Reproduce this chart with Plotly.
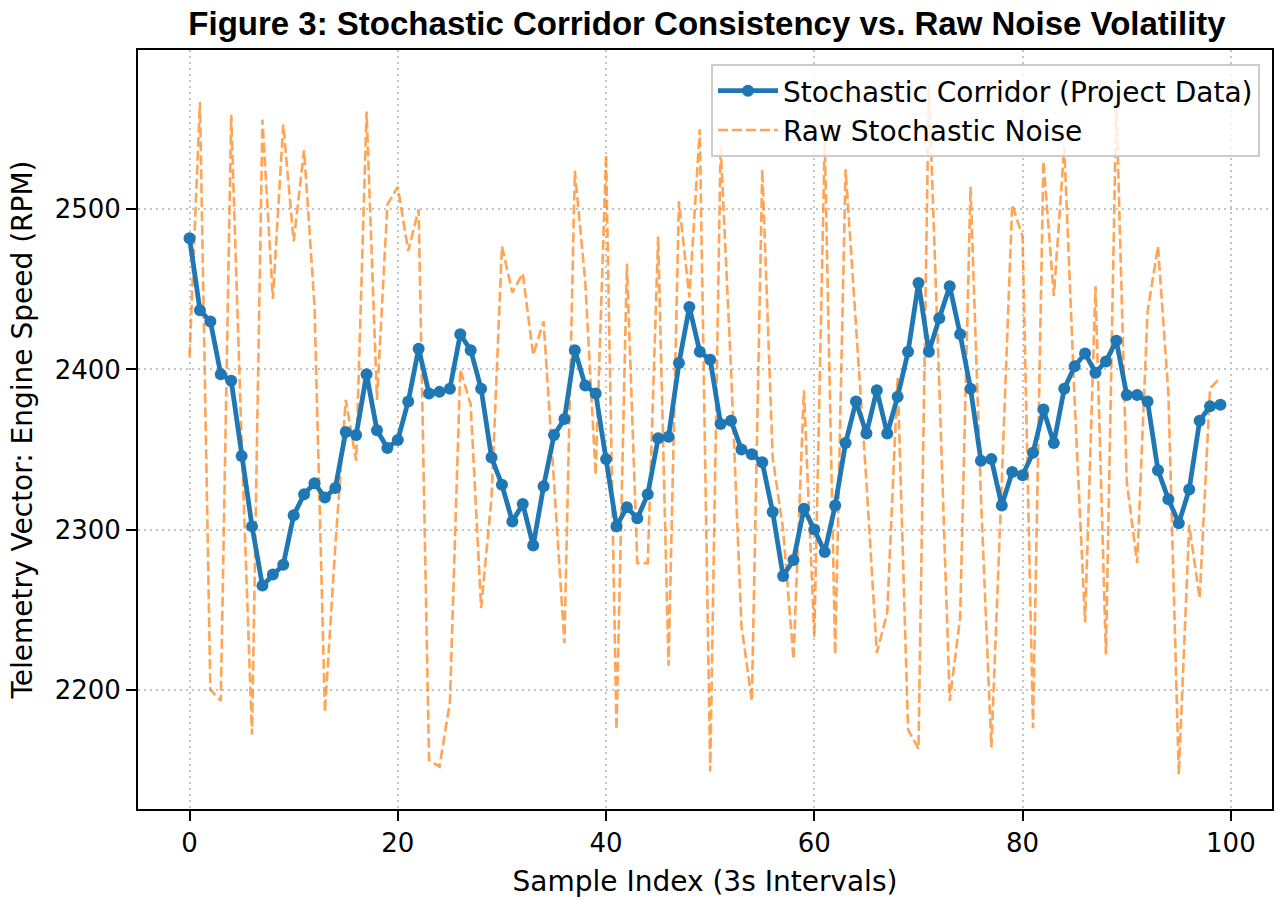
import plotly.graph_objects as go

sample_index = list(range(100))

corridor_rpm = [
    2482, 2437, 2430, 2397, 2393, 2346, 2302, 2265, 2272, 2278,
    2309, 2322, 2329, 2320, 2326, 2361, 2359, 2397, 2362, 2351,
    2356, 2380, 2413, 2385, 2386, 2388, 2422, 2412, 2388, 2345,
    2328, 2305, 2316, 2290, 2327, 2359, 2369, 2412, 2390, 2385,
    2344, 2302, 2314, 2307, 2322, 2357, 2358, 2404, 2439, 2411,
    2406, 2366, 2368, 2350, 2347, 2342, 2311, 2271, 2281, 2313,
    2300, 2286, 2315, 2354, 2380, 2360, 2387, 2360, 2383, 2411,
    2454, 2411, 2432, 2452, 2422, 2388, 2343, 2344, 2315, 2336,
    2334, 2348, 2375, 2354, 2388, 2402, 2410, 2398, 2405, 2418,
    2384, 2384, 2380, 2337, 2319, 2304, 2325, 2368, 2377, 2378,
]

noise_rpm = [
    2408, 2567, 2200, 2193, 2559, 2355, 2172, 2556, 2444, 2553,
    2480, 2537, 2440, 2186, 2290, 2381, 2343, 2561, 2381, 2503,
    2514, 2474, 2500, 2156, 2152, 2192, 2400, 2378, 2251, 2320,
    2477, 2448, 2460, 2409, 2430, 2330, 2229, 2524, 2455, 2334,
    2534, 2175, 2466, 2279, 2279, 2483, 2215, 2505, 2445, 2550,
    2149, 2540, 2400, 2240, 2193, 2525, 2345, 2300, 2219, 2387,
    2233, 2543, 2222, 2525, 2430, 2330, 2223, 2248, 2395, 2175,
    2163, 2578, 2390, 2193, 2245, 2514, 2320, 2164, 2330, 2503,
    2483, 2176, 2530, 2446, 2539, 2380, 2242, 2452, 2222, 2568,
    2330, 2279, 2436, 2477, 2385, 2147, 2303, 2257, 2388, 2395,
]

x_ticks = [0, 20, 40, 60, 80, 100]
y_ticks = [2200, 2300, 2400, 2500]

FONT = "DejaVu Sans"
FS_TICK = 26
FS_LABEL = 28

fig = go.Figure()
fig.add_trace(go.Scatter(
    x=sample_index, y=noise_rpm, mode="lines",
    name="Raw Stochastic Noise",
    line=dict(color="#ff7f0e", width=2.6, dash="10px,4px"),
    opacity=0.7,
))
fig.add_trace(go.Scatter(
    x=sample_index, y=corridor_rpm, mode="lines+markers",
    name="Stochastic Corridor (Project Data)",
    line=dict(color="#1f77b4", width=4.8),
    marker=dict(color="#1f77b4", size=12),
))

axis_common = dict(
    showline=True, linecolor="black", linewidth=2, mirror=True,
    ticks="outside", ticklen=10, tickwidth=2, tickcolor="black",
    showgrid=True, gridcolor="#c4c4c4", griddash="2px,4px", gridwidth=2,
    zeroline=False,
    tickfont=dict(family=FONT, size=FS_TICK, color="black"),
)

fig.update_layout(
    width=1285, height=904,
    margin=dict(l=138, r=13, t=50, b=95),
    paper_bgcolor="white", plot_bgcolor="white",
    font=dict(family=FONT, color="black"),
    title=dict(
        text="<b>Figure 3: Stochastic Corridor Consistency vs. Raw Noise Volatility</b>",
        x=707 / 1285, xanchor="center",
        y=1 - 23 / 904, yanchor="middle",
        font=dict(family="Liberation Sans", size=33, color="black"),
    ),
    xaxis=dict(
        range=[-4.95, 103.95], tickvals=x_ticks,
        title=dict(text="Sample Index (3s Intervals)", font=dict(family=FONT, size=FS_LABEL), standoff=14),
        **axis_common,
    ),
    yaxis=dict(
        range=[2125.5, 2599.5], tickvals=y_ticks,
        title=dict(text="Telemetry Vector: Engine Speed (RPM)", font=dict(family=FONT, size=FS_LABEL), standoff=14),
        **axis_common,
    ),
    legend=dict(
        x=0.9894, y=0.9816, xanchor="right", yanchor="top",
        bgcolor="rgba(255,255,255,0.8)", bordercolor="#cccccc", borderwidth=2,
        font=dict(family=FONT, size=FS_LABEL, color="black"),
        traceorder="reversed",
        itemwidth=60,
    ),
    showlegend=True,
)

fig.write_html("out.html")
